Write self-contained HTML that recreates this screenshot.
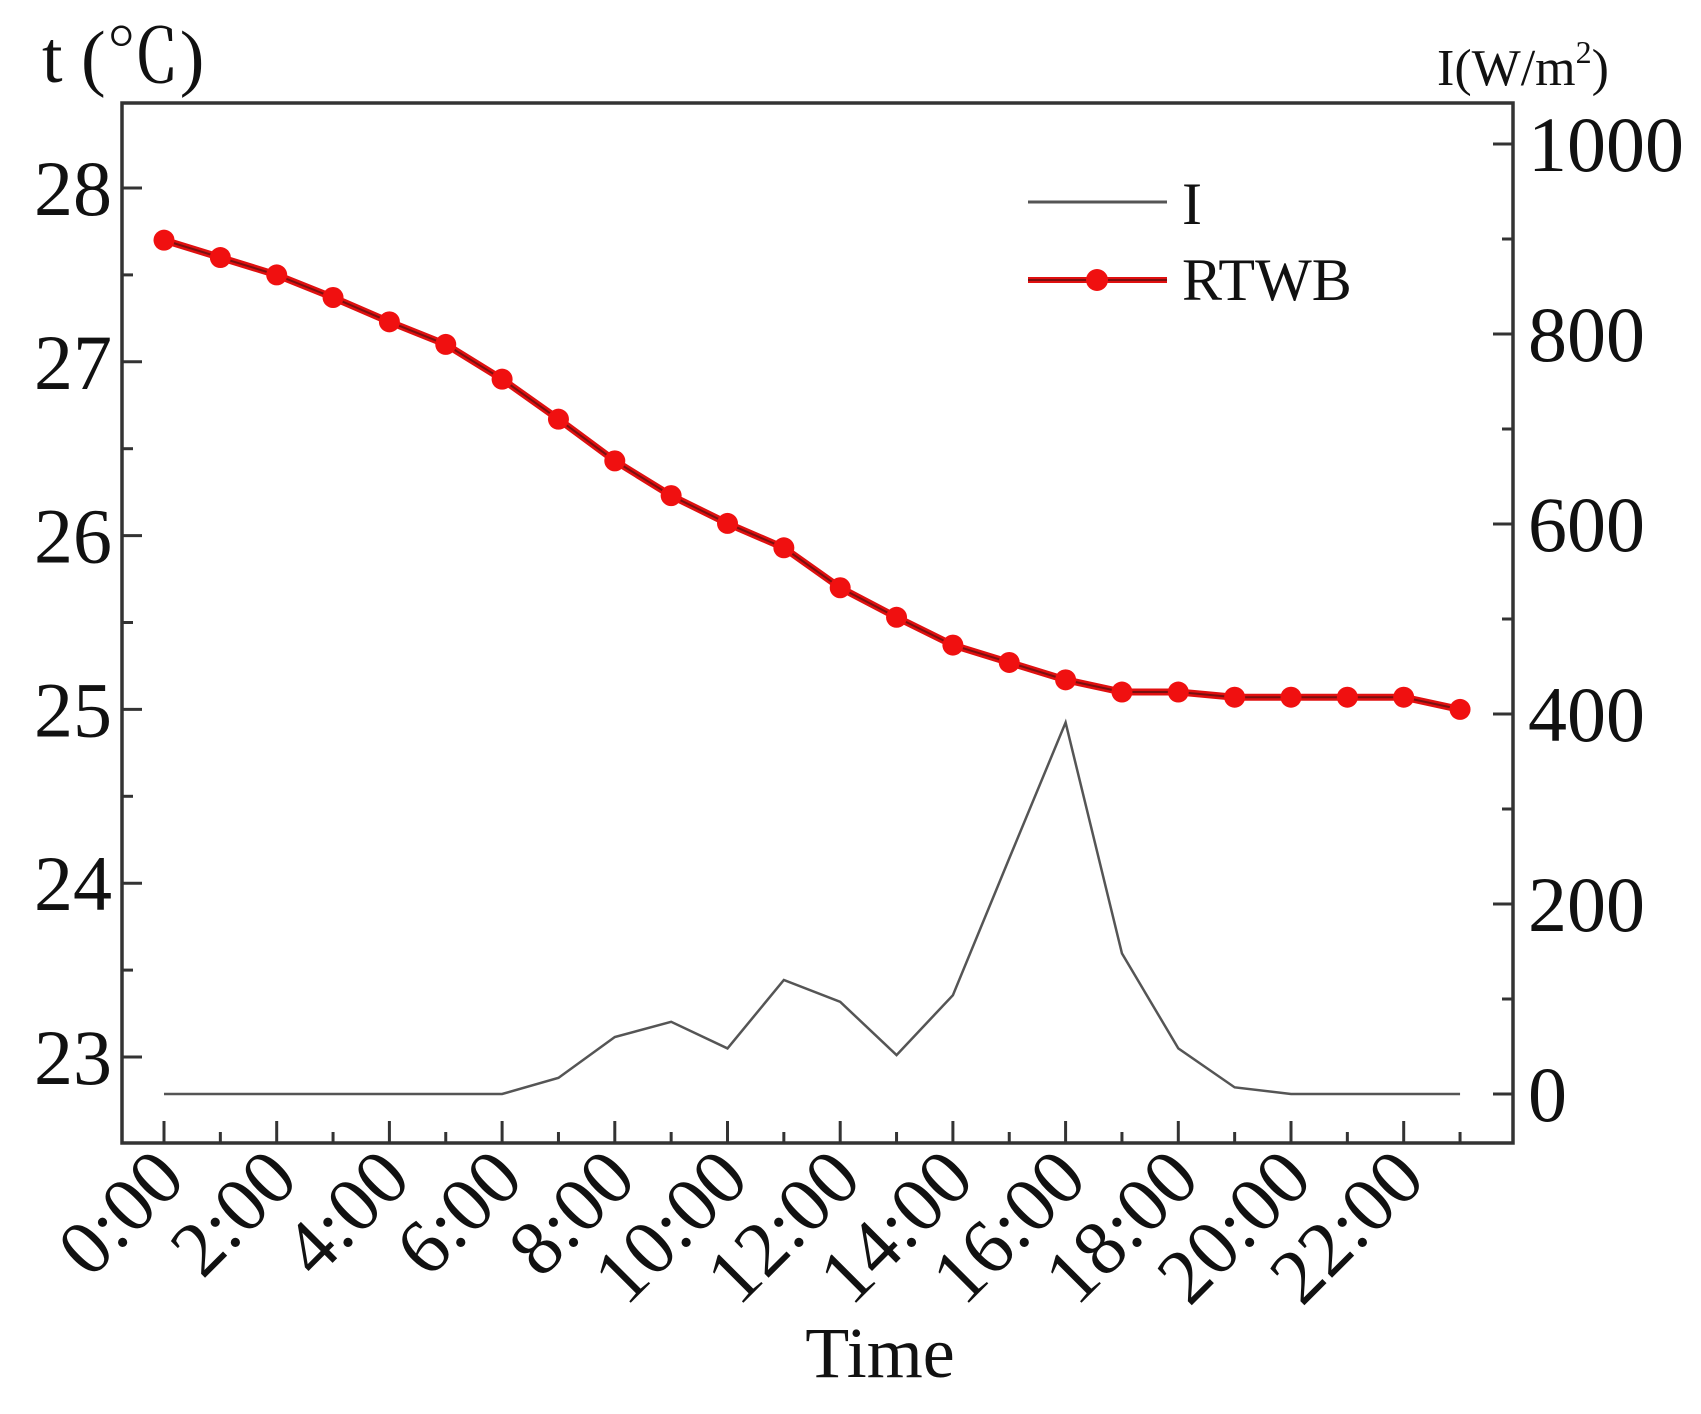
<!DOCTYPE html>
<html><head><meta charset="utf-8"><style>
body{margin:0;background:#fff}
svg{display:block}
text{font-family:"Liberation Serif","Noto Serif CJK SC",serif;fill:#111}
</style></head><body>
<svg id="chart" width="1701" height="1414" viewBox="0 0 1701 1414" xmlns="http://www.w3.org/2000/svg">
<rect x="122" y="103" width="1391" height="1040" fill="none" stroke="#333" stroke-width="3.5"/>
<g id="axes"></g>
<g id="series"></g>
<text x="42" y="82" font-size="74">t (℃)</text>
<text x="1437" y="85" font-size="52">I(W/m<tspan dy="-22" font-size="32">2</tspan><tspan dy="22">)</tspan></text>
<text x="880" y="1377" font-size="72" text-anchor="middle">Time</text>
<g>
<line x1="1028" y1="202" x2="1167" y2="202" stroke="#555" stroke-width="3"/>
<text x="1182" y="224" font-size="60">I</text>
<line x1="1028" y1="280" x2="1167" y2="280" stroke="#e01010" stroke-width="6"/>
<line x1="1028" y1="280" x2="1167" y2="280" stroke="#7a1010" stroke-width="2"/>
<circle cx="1097" cy="280" r="11" fill="#f01010"/>
<text x="1182" y="300" font-size="60">RTWB</text>
</g>
</svg>
<script>
const hours=[0,1,2,3,4,5,6,7,8,9,10,11,12,13,14,15,16,17,18,19,20,21,22,23];
const rtwb=[27.7,27.6,27.5,27.37,27.23,27.1,26.9,26.67,26.43,26.23,26.07,25.93,25.7,25.53,25.37,25.27,25.17,25.1,25.1,25.07,25.07,25.07,25.07,25.0];
const irr=[0,0,0,0,0,0,0,17,60,76,48,120,97,41,104,248,391,148,48,7,0,0,0,0];
const leftTicks=[23,24,25,26,27,28];
const rightTicks=[0,200,400,600,800,1000];
const xLabels=["0:00","2:00","4:00","6:00","8:00","10:00","12:00","14:00","16:00","18:00","20:00","22:00"];
const xLabelHours=[0,2,4,6,8,10,12,14,16,18,20,22];

const X=h=>164+h*56.35;
const YT=t=>188+(28-t)*173.8;
const YI=v=>1094-v*0.95;
const NS="http://www.w3.org/2000/svg";
const axes=document.getElementById('axes'),series=document.getElementById('series');
function mk(tag,attrs,parent){const e=document.createElementNS(NS,tag);for(const k in attrs)e.setAttribute(k,attrs[k]);parent.appendChild(e);return e;}

for(let t=22.5;t<=28.5;t+=0.5){
  const y=YT(t);if(y<105||y>1141)continue;
  const major=Number.isInteger(t);
  const l=mk('line',{x1:122,x2:122+(major?20:11),y1:y,y2:y,stroke:'#333','stroke-width':3},axes);
  
  
}
leftTicks.forEach(t=>{
  const e=mk('text',{x:112,y:YT(t)+27,'font-size':78,'text-anchor':'end'},axes);
  e.textContent=t;
  
  
});
for(let v=0;v<=1000;v+=100){
  const y=YI(v);const major=v%200===0;
  const l=mk('line',{x1:1513,x2:1513-(major?20:11),y1:y,y2:y,stroke:'#333','stroke-width':3},axes);
  
  
}
rightTicks.forEach(v=>{
  const e=mk('text',{x:1528,y:YI(v)+27,'font-size':78},axes);
  e.textContent=v;
  
  
});
hours.forEach(h=>{
  const major=h%2===0;
  const l=mk('line',{x1:X(h),x2:X(h),y1:1143,y2:1143-(major?22:11),stroke:'#333','stroke-width':3},axes);
  
  
});
xLabels.forEach((s,i)=>{
  const x=X(xLabelHours[i])+24,y=1182;
  const e=mk('text',{x:x,y:y,'font-size':78,'text-anchor':'end',transform:`rotate(-45 ${x} ${y})`},axes);
  e.textContent=s;
  
  
});
const pi=mk('polyline',{points:hours.map((h,i)=>X(h)+','+YI(irr[i])).join(' '),fill:'none',stroke:'#555','stroke-width':2.5},series);


const pts=hours.map((h,i)=>X(h)+','+YT(rtwb[i])).join(' ');
const pr=mk('polyline',{points:pts,fill:'none',stroke:'#e01010','stroke-width':7},series);


const pc=mk('polyline',{points:pts,fill:'none',stroke:'#7a1010','stroke-width':2},series);


hours.forEach((h,i)=>{
  const c=mk('circle',{cx:X(h),cy:YT(rtwb[i]),r:10.5,fill:'#f01010'},series);
  
  
});
</script>
</body></html>
